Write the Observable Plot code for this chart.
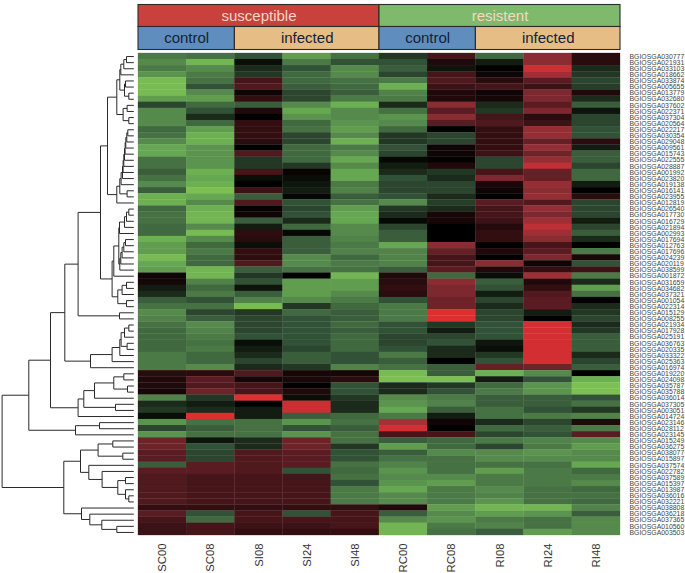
<!DOCTYPE html>
<html><head><meta charset="utf-8">
<script src="https://cdn.jsdelivr.net/npm/d3@7"></script>
<script src="https://cdn.jsdelivr.net/npm/@observablehq/plot@0.6"></script>
<style>html,body{margin:0;padding:0;background:#fff}svg{display:block}</style>
</head><body><div id="chart"></div>
<script>
const samples = ["SC00","SC08","SI08","SI24","SI48","RC00","RC08","RI08","RI24","RI48"];
const genotype = ["susceptible","susceptible","susceptible","susceptible","susceptible","resistent","resistent","resistent","resistent","resistent"];
const treatment = ["control","control","infected","infected","infected","control","control","infected","infected","infected"];
const genes = ["030777","021931","033103","018662","033874","005655","013779","032680","037602","022371",
"037304","020564","022217","030354","029048","009561","015743","022555","028887","001992",
"023820","019138","016141","023955","012819","026540","017730","016729","021894","002993",
"017694","012763","017696","024239","020119","038599","001872","031659","034682","037321",
"001054","022314","015129","008255","021934","017928","025191","036763","020335","033322",
"025363","016974","019220","024098","035787","035788","036014","037305","003051","014724",
"023146","028112","023145","015249","036275","038077","015897","037574","022782","037589",
"015397","013987","036016","032221","038808","036218","037365","010560","003503"].map(d => "BGIOSGA" + d);

const SC00 = [-5,-6,-5,-6.5,-9,-9,-9,-7,-2.5,-6,
-6,-6,-4,-4.5,-6,-7.5,-7.5,-4.5,-4.5,-3.5,
-4.5,-6,-3.5,-8,-8,-4,-4.5,-4.5,-4,-4,
-8,-7,-7,-9,-7.5,-7,.5,.7,-1,-1.5,
-3.5,-4.5,-6,-5.5,-4.5,-4,-4,-4,-4,-5,
-5,-5,1.5,1,1,.7,-5.5,-1.5,-2,-.5,
-6.5,-2.5,-6.5,5,5,4,4,-3.5,4,3.5,
3.5,3.5,3.5,3.5,2,4,3,2.5,2.5];
const SC08 = [-4.5,-8.5,-6,-5,-4.5,-3,-6,-7,-4,-3,
-1.5,-4,-7,-8,-8,-6.5,-6.5,-6.5,-6.5,-8,
-7.5,-8,-9.5,-7.5,-6,-8,-8.5,-8.5,-6,-9,
-6,-4,-5,-4,-4,-8.5,-8.5,-5.5,-4,-5,
-3,-4.5,-2.5,-3.5,-6,-5.5,-5,-4.5,-5,-4,
-4,-6,1.5,4,3.5,5,-2,-1,-1.5,10,
-4.5,-3.5,-4.5,-.7,-3,-2.5,-2.5,4,4,3,
3,3,3,3,2,-3,-4,3,3];
const SI08 = [-3,-.5,-1.5,-2,3,3.5,.5,2,-3.5,1,
0,2,2,2,1.5,0,3.5,-2,-2,3,
-.5,0,2.5,-3.5,3.5,.2,.5,-3.5,-1,1.8,
1.5,-.5,2,1.8,3.5,-3.5,-2,-3,-.7,-3.5,
-5.5,-9,-2,-2.5,-2.5,-2.5,-3,-.5,-1,-1.5,
-2.5,-1.5,3.5,.7,3,3,10,0,-1,-1,
-4.5,-4.5,-4.5,-1.5,-1.5,3.5,3.5,3.5,3.5,3,
3,3,3,3,2,3,3,2.5,2];
const SI24 = [-7,-5,-3,-4,-4,-3.5,-2.5,-2.5,-6,-7.5,
-6.5,-4,-4.5,-2.5,-2.5,-4,-4,-4,-2,.3,
-.5,-.8,-1,-.3,-3,-2.5,-3,-1.5,-4,-.3,
-3.5,-3.5,-3.5,-6,-6,-4.5,0,-7,-7,-7,
-6,-2,-4,-3,-3,-3,-3,-3,-2.5,-3.5,
-3.5,-2,.7,.8,0,1,-.5,9,9,-3.5,
-6.5,-3,-6.5,5,5,4,4,4,-3,3,
3,3,3,3,2,-3,3,2.5,2];
const SI48 = [-4.5,-3,-6,-6,-4.5,-4,-3.5,-5,-8,-6,
-6,-6.5,-7,-6,-8,-5,-6,-7.5,-6,-7.5,
-7.5,-5,-5.5,-3.5,-4.5,-7,-7.5,-7.5,-6,-6,
-5.5,-5,-5.5,-4,-5,-4.5,-8.5,-7,-7,-6,
-5,-4,-3.5,-3.5,-4,-3.5,-4,-4,-4,-3,
-3,-5.5,.7,1.5,-3,-3,-2,-1.5,-1.5,-4,
-4.5,-3.5,-4.5,-4.5,-2,-3,-3,-4.5,-4,-4.5,
-3,-5,-5,-5,2,3,3,3,2];
const RC00 = [-2,-3,-3.5,-2.5,-5,-8,-5.5,-5,-1.5,-4.5,
-6.5,-6,-4,-2,-2,-3,-2.5,-.3,-1,-1.5,
-3,-2.5,-2.5,-3,-6,-2,-1.5,-.3,-2.5,-3.5,
-3.5,-7.5,-5.5,-5.5,-5.5,-3.5,1,1.5,2,1.5,
-3,-5,-5,-5,-3,-3,-2.5,-2.5,-3,-5,
-3.5,-4.5,-9,-9.5,-1.5,-1.5,-6,-6.5,-7.5,-5,
7.5,9.5,3,-3.5,-7,-3.5,-4.5,-5.5,-6.5,-6,
-6.5,-7.5,-6,-6,1,-3.5,-6,-8.5,-8.5];
const RC08 = [3,1,-.7,3,3.5,2.5,1,1,6,4,
6,4,0,-2.5,-2.5,.5,.5,.2,1,-2,
-1.5,-2.5,-2.5,-1.5,-2.2,-1.5,.7,.7,0,0,
0,6,4.5,3,3,4,-4,6,5.5,5.5,
5,5,10,10,-2,-1,-2.5,-3,-1.5,-1.5,
0,-3.5,-3.5,-9.5,-2,-3,-5,-5.5,-3.5,-1,
.5,0,3,-4,-4,-6,-4.5,-4.5,-4.5,-6,
-7,-5,-5,-5,-7,-6,-6.5,-5,-4.5];
const RI08 = [-4,-1,0,.5,1.5,3,.5,.7,-1.5,-2,
3,3.5,2,2,2,2,2.5,-2.5,-2.5,3,
5.5,.8,.5,0,4,3,3,2.5,1.2,2,
2,0,1,0,6,1,-.5,-3.5,-3,-1,
-2.5,-1.5,-2.5,-2.5,-3,-3,-3,-.8,-.5,-2,
-3,4.5,-8,-1,-4,-5,-3.5,-3.5,-4.5,-4.5,
-1.5,-4,-2.5,-5,-2.5,-6,-6,-4.5,-7,-5,
-5,-6,-5.5,-6.5,-8.5,-7,-5,-5.5,-3.5];
const RI24 = [6,6,9,7,4,2.5,5.5,5.5,4,5.5,
1.5,2.5,6.5,6.5,4.5,6.5,5,6.5,8.5,4.5,
4.5,6.5,6,6.5,3.5,6.5,5.5,7,8.5,7,
6,3,4,5.5,.5,2,7,1,2,3.5,
4,4,-1,0,9.5,9.5,9.5,9.5,9.5,9.5,
9.5,5,-6,-3,-6.5,-6.5,-3.5,-3.5,-3,-5,
-2.5,-3.5,-3,-5.5,-5,-6.5,-6,-4.5,-5,-5,
-5,-4.5,-4.5,-4.5,-8.5,-6.5,-4.5,-4.5,-7];
const RI48 = [1.5,1.5,-1.5,-2,-2.5,-2.2,1,-1.5,-3.5,-.7,
-2.5,-2.5,-3,-3,1.5,-1,-3.5,-3.5,-2.5,-4,
-4,-1,0,1.5,-2.5,-2.5,-2.5,-1,-2.5,-3.5,
-1.5,0,-5,.8,-3,2.5,-5,-1.5,-7,-4.5,
0,-1.5,-2,-2.5,-1.5,-2,-3.5,-3.5,-3.5,-1.5,
-2.5,-3.5,0,-8,-9.5,-9.5,-3,-4.5,-2,-5.5,
1,-5,4,-6,-7,-6,-6,-7.5,-4,-5,
-6,-4,-4.5,-4,-5.5,-3.5,-6,-6,-6];
const columns = [SC00,SC08,SI08,SI24,SI48,RC00,RC08,RI08,RI24,RI48];

// Row dendrogram: [merge height, upper child, lower child]; L is a leaf, taken in row order.
const L = 0;
const G1 = [17,[14,[13,[10,[7.3,L,L],L],L],[9.3,[8.3,L,L],[5,L,L]]],[10.7,[6.7,L,L],[5,L,L]]];
const G2 = [17,[14,[12.7,[11.3,[10.7,[10,[9.3,[8.7,[8,[7,[6,L,L],L],L],L],L],L],L],L],L],[6.7,L,L]],L];
const G3 = [20,[15,[14.3,[9.3,[7.3,[5,L,L],L],L],L],[14,[13,[11.7,[10,[8.3,L,L],L],L],L],L]],L];
const G4 = [16,[11.7,[7.3,L,L],L],[7.3,L,L]];
const tree = [131.7,
  [105,
    [83.3,
      [69,
        [55.7,[33.3,[26.3,G1,G2],[21.7,G3,G4]],[14.3,L,L]],
        [43.3,[21.7,[14,[12.7,[9.3,[5,L,L],L],[6.7,L,L]],L],L],L]],
      [55.7,[50,[39.3,[20,[10,L,L],[6.3,L,L]],L],[18.3,L,L]],L]],
    [58.3,[34.3,L,L],L]],
  [70,
    [53.3,
      [35.7,[21,L,L],[11,L,L]],
      [45,L,[31.7,L,[16,[8.3,L,L],[8.3,L,[5,L,L]]]]]],
    [52.3,L,[44,L,[32,L,[17,L,L]]]]]];

const colorStops = [-10,-8,-6,-4,-3,-2,-1,0,1,2,3,5,6,8,10];
const colorRange = ["#82c552","#6cb052","#558a4c","#41693f","#325237","#233824","#121c10","#000000","#1f090b","#320e11","#46151a","#6e2329","#8a2d33","#b23037","#de2f30"];

const cells = columns.flatMap((vals, c) => vals.map((v, r) => ({c, r, v})));

// Spans of consecutive equal values
function spans(arr) {
  const out = [];
  arr.forEach((v, i) => {
    const last = out[out.length - 1];
    if (last && last.label === v) last.end = i + 1;
    else out.push({label: v, start: i, end: i + 1});
  });
  return out;
}
// Header spans: treatment restarts inside each genotype
const treatSpans = spans(treatment.map((t, i) => genotype[i] + "|" + t))
  .map(d => ({...d, label: d.label.split("|")[1]}));
const genoSpans = spans(genotype);

// Dendrogram segments from the tree
const segs = [];
let leaf = 0;
function walk(n) {
  if (n === L) return {h: 0, y: (leaf++) + 0.5};
  const a = walk(n[1]), b = walk(n[2]), h = n[0];
  segs.push({h1: h, h2: h, y1: a.y, y2: b.y});
  segs.push({h1: h, h2: a.h, y1: a.y, y2: a.y});
  segs.push({h1: h, h2: b.h, y1: b.y, y2: b.y});
  return {h, y: (a.y + b.y) / 2};
}
walk(tree);

const W = 685, H = 573, mL = 138, mR = 65, mT = 53, mB = 38;
const colPx = (W - mL - mR) / samples.length, rowPx = (H - mT - mB) / genes.length;
const dendX = h => -(4.7 + h) / colPx;
const yAt = px => (px - mT) / rowPx;
const font = "Liberation Sans, Arial, Helvetica, sans-serif";
const groupFill = {susceptible:"#c9413d", resistent:"#7fb96b"};
const treatFill = {control:"#5f8dbd", infected:"#e6bd85"};

const plot = Plot.plot({
  width: W, height: H,
  marginLeft: mL, marginRight: mR, marginTop: mT, marginBottom: mB,
  style: {background: "#fff", fontFamily: font},
  x: {domain: [0, samples.length], axis: null},
  y: {domain: [0, genes.length], reverse: true, axis: null},
  color: {type: "linear", domain: colorStops, range: colorRange, interpolate: "rgb"},
  marks: [
    Plot.rect(cells, {x1: "c", x2: d => d.c + 1, y1: "r", y2: d => d.r + 1, fill: "v", inset: -0.15}),
    Plot.link(segs, {x1: d => dendX(d.h1), x2: d => dendX(d.h2), y1: "y1", y2: "y2", stroke: "#2a2a2a", strokeWidth: 1}),
    Plot.rect(genoSpans, {x1: "start", x2: "end", y1: yAt(4.5), y2: yAt(26.5), fill: d => groupFill[d.label], stroke: "#2b2b2b", strokeWidth: 1.1}),
    Plot.rect(treatSpans, {x1: "start", x2: "end", y1: yAt(26.5), y2: yAt(49.5), fill: d => treatFill[d.label], stroke: "#2b2b2b", strokeWidth: 1.1}),
    Plot.text(genoSpans, {x: d => (d.start + d.end) / 2, y: yAt(15.5), text: "label", fill: "#f6d7c4", fontSize: 15, fontFamily: font}),
    Plot.text(treatSpans, {x: d => (d.start + d.end) / 2, y: yAt(38), text: "label", fill: "#13233a", fontSize: 15, fontFamily: font}),
    Plot.text(genes, {x: samples.length, y: (d, i) => i + 0.5, text: d => d, dx: 9, textAnchor: "start", fontSize: 6.9, fill: "#444", fontFamily: font}),
    Plot.text(samples, {x: (d, i) => i + 0.5, y: genes.length, text: d => d, dy: 8, rotate: -90, textAnchor: "end", fontSize: 11.3, fill: "#333", fontFamily: font})
  ]
});
document.getElementById("chart").appendChild(plot);
</script>
</body></html>
